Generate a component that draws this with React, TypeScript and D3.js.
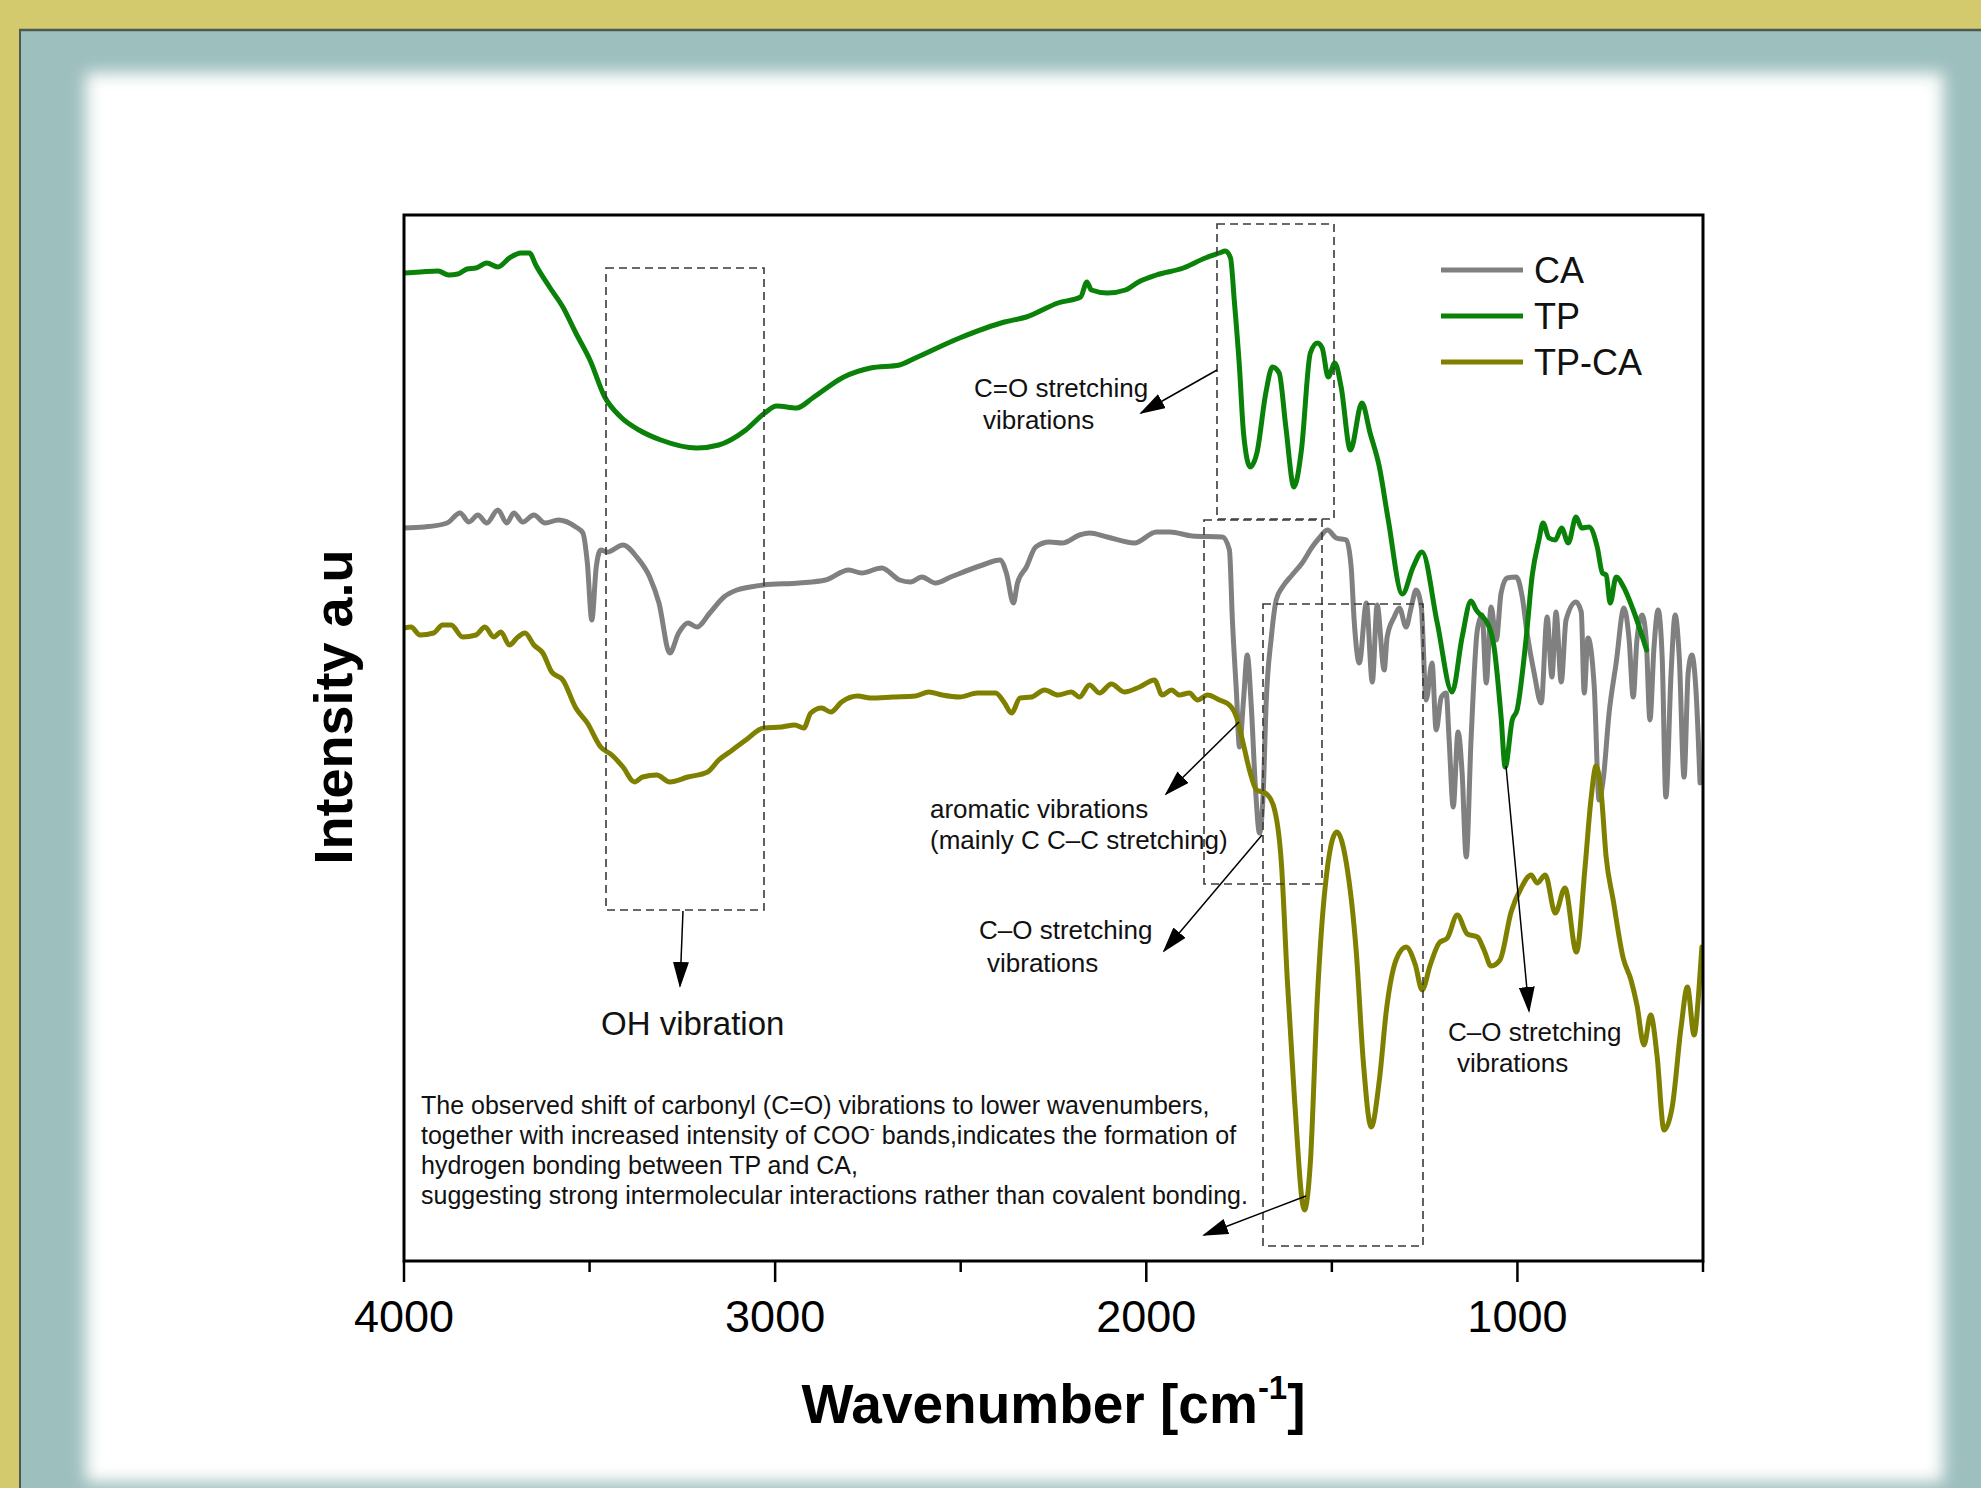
import React from 'react';
import * as d3 from 'd3';

// ---------- data (wavenumber [cm-1], intensity [a.u.]) ----------
const X_TICKS = [4000, 3500, 3000, 2500, 2000, 1500, 1000, 500];
const X_TICK_LABELS = [4000, 3000, 2000, 1000];
const SERIES_NAMES = ['CA', 'TP', 'TP-CA'];
const SERIES_COLORS = ['#808080', '#0a820a', '#808000'];

const TP: [number, number][] = [
  [4000, 98.8], [3955, 98.9], [3908, 99.0], [3880, 98.6], [3855, 98.7], [3830, 99.2], [3806, 99.3],
  [3777, 99.8], [3747, 99.4], [3716, 100.3], [3685, 100.8], [3662, 100.8], [3645, 99.6], [3608, 97.4],
  [3572, 95.4], [3537, 92.8], [3499, 90.1], [3459, 86.4], [3416, 84.4], [3367, 83.1], [3308, 82.1],
  [3211, 81.3], [3152, 81.6], [3079, 83.1], [3028, 84.8], [2996, 85.5], [2942, 85.3], [2899, 86.3],
  [2815, 88.4], [2743, 89.3], [2665, 89.6], [2622, 90.3], [2503, 92.3], [2382, 93.9], [2323, 94.4],
  [2238, 95.8], [2177, 96.4], [2160, 97.9], [2148, 97.1], [2105, 96.8], [2056, 97.1], [2021, 97.9],
  [1973, 98.6], [1900, 99.3], [1841, 100.3], [1803, 100.8], [1787, 101.0], [1773, 100.3], [1763, 96.1],
  [1749, 89.4], [1738, 82.8], [1720, 79.4], [1702, 80.8], [1678, 86.8], [1660, 89.4], [1642, 88.8],
  [1624, 83.4], [1602, 77.4], [1582, 81.1], [1558, 90.8], [1539, 91.8], [1526, 91.3], [1510, 88.4],
  [1492, 89.8], [1475, 87.4], [1450, 81.1], [1419, 85.8], [1397, 82.8], [1372, 79.4], [1348, 74.1],
  [1310, 66.7], [1281, 69.4], [1257, 70.9], [1216, 63.8], [1176, 56.9], [1149, 62.4], [1125, 66.0],
  [1111, 65.1], [1076, 63.4], [1063, 61.4], [1044, 54.4], [1033, 49.4], [1014, 54.1], [1001, 55.1],
  [977, 62.1], [960, 68.6], [942, 72.1], [931, 73.8], [915, 72.3], [898, 72.1], [881, 73.3],
  [863, 71.8], [842, 74.4], [827, 73.3], [807, 73.4], [785, 71.4], [771, 68.8], [761, 68.6],
  [750, 65.8], [734, 68.4], [714, 67.4], [688, 65.1], [652, 61.1],
];

const CA: [number, number][] = [
  [4000, 73.3], [3945, 73.4], [3884, 73.8], [3849, 74.8], [3825, 73.9], [3801, 74.6], [3777, 73.8],
  [3747, 75.1], [3723, 73.8], [3704, 74.8], [3680, 73.9], [3650, 74.6], [3620, 73.8], [3584, 74.1],
  [3537, 73.4], [3518, 72.8], [3506, 69.8], [3494, 64.1], [3482, 69.4], [3470, 71.1], [3452, 70.9],
  [3410, 71.6], [3373, 70.4], [3338, 68.4], [3313, 65.8], [3284, 60.8], [3260, 62.8], [3235, 63.8],
  [3211, 63.4], [3176, 64.8], [3138, 66.4], [3103, 67.1], [3067, 67.4], [3031, 67.6], [2935, 67.8],
  [2864, 68.1], [2802, 69.1], [2767, 68.8], [2713, 69.3], [2665, 68.1], [2635, 67.9], [2605, 68.4],
  [2568, 67.8], [2527, 68.4], [2441, 69.6], [2394, 70.1], [2377, 68.8], [2358, 65.8], [2347, 67.8],
  [2323, 69.4], [2298, 71.4], [2261, 71.9], [2226, 71.8], [2180, 72.6], [2153, 72.8], [2105, 72.4],
  [2032, 71.8], [1973, 72.9], [1936, 72.9], [1876, 72.5], [1795, 72.4], [1776, 71.1], [1768, 64.1],
  [1757, 56.8], [1749, 51.4], [1738, 56.1], [1728, 60.6], [1717, 55.4], [1706, 47.4], [1695, 42.8],
  [1685, 46.8], [1677, 55.8], [1663, 62.4], [1650, 66.1], [1633, 67.4], [1607, 68.6], [1580, 69.8],
  [1553, 71.4], [1534, 72.3], [1512, 73.1], [1488, 72.3], [1461, 72.1], [1448, 69.4], [1440, 64.1],
  [1426, 59.8], [1407, 65.8], [1391, 57.9], [1378, 65.6], [1359, 59.1], [1351, 62.4], [1332, 64.4],
  [1318, 65.3], [1300, 63.4], [1286, 65.4], [1273, 67.1], [1259, 65.4], [1246, 56.1], [1230, 59.8],
  [1219, 53.1], [1205, 56.4], [1192, 56.8], [1184, 52.1], [1173, 45.4], [1160, 52.9], [1149, 48.8],
  [1138, 40.4], [1125, 52.1], [1108, 63.1], [1095, 64.6], [1084, 57.8], [1071, 65.4], [1057, 62.1],
  [1044, 66.8], [1028, 68.3], [1003, 68.4], [987, 66.4], [974, 62.8], [955, 58.8], [936, 55.8],
  [920, 64.4], [907, 58.4], [896, 64.9], [882, 57.9], [869, 64.1], [842, 65.9], [828, 64.9],
  [820, 56.8], [810, 62.3], [793, 57.4], [780, 46.1], [769, 48.1], [753, 54.8], [734, 59.8],
  [713, 65.3], [699, 62.1], [688, 56.4], [678, 62.1], [664, 64.6], [653, 62.1], [643, 54.1],
  [632, 61.4], [621, 65.1], [610, 60.4], [600, 46.4], [586, 58.8], [575, 64.6], [564, 60.4],
  [551, 48.4], [540, 58.8], [530, 60.6], [519, 57.1], [508, 47.8],
];

const TPCA: [number, number][] = [
  [4000, 63.3], [3981, 63.4], [3957, 62.6], [3920, 62.8], [3896, 63.6], [3873, 63.6], [3842, 62.4],
  [3806, 62.6], [3782, 63.4], [3758, 62.4], [3739, 62.9], [3716, 61.6], [3693, 62.4], [3674, 62.8],
  [3650, 61.6], [3626, 60.8], [3602, 58.9], [3572, 58.1], [3537, 55.3], [3506, 53.8], [3470, 51.4],
  [3440, 50.6], [3410, 49.4], [3379, 47.9], [3357, 48.4], [3319, 48.6], [3284, 47.9], [3235, 48.4],
  [3182, 48.9], [3152, 50.1], [3115, 51.1], [3079, 52.1], [3031, 53.3], [2982, 53.4], [2947, 53.6],
  [2923, 53.3], [2904, 54.8], [2875, 55.3], [2850, 54.9], [2821, 55.9], [2778, 56.5], [2743, 56.3],
  [2683, 56.4], [2622, 56.5], [2586, 56.9], [2550, 56.6], [2503, 56.4], [2455, 56.8], [2406, 56.8],
  [2382, 55.8], [2363, 54.8], [2340, 56.3], [2309, 56.4], [2274, 57.1], [2238, 56.6], [2202, 56.9],
  [2180, 56.4], [2153, 57.6], [2126, 56.8], [2094, 57.7], [2059, 56.9], [2018, 57.4], [1978, 58.1],
  [1957, 56.6], [1932, 57.1], [1911, 56.6], [1884, 56.8], [1862, 56.1], [1835, 56.6], [1803, 56.1],
  [1776, 55.6], [1757, 54.4], [1741, 52.1], [1722, 49.1], [1703, 47.1], [1679, 46.8], [1658, 45.6],
  [1636, 39.8], [1620, 28.1], [1601, 16.4], [1574, 5.1], [1558, 9.8], [1539, 26.4], [1518, 37.4],
  [1487, 42.9], [1461, 39.8], [1434, 30.8], [1415, 19.8], [1394, 13.4], [1372, 18.1], [1353, 25.1],
  [1327, 30.1], [1300, 31.4], [1275, 29.6], [1257, 27.1], [1235, 29.6], [1211, 31.8], [1189, 32.3],
  [1162, 34.6], [1135, 32.7], [1108, 32.4], [1090, 31.1], [1071, 29.5], [1047, 30.1], [1017, 34.9],
  [990, 37.3], [963, 38.6], [947, 37.8], [925, 38.6], [898, 34.8], [872, 37.3], [841, 30.9],
  [818, 39.3], [802, 46.1], [788, 49.5], [775, 47.1], [761, 40.4], [742, 36.1], [715, 30.3],
  [694, 28.1], [678, 25.6], [659, 21.6], [641, 24.6], [624, 20.6], [605, 13.1], [583, 15.4],
  [559, 23.4], [542, 27.4], [524, 22.6], [511, 27.1], [503, 31.4],
];

const SERIES_DATA = [CA, TP, TPCA];

// ---------- layout ----------
const W = 1981;
const H = 1488;
const PL = 404, PR = 1703, PT = 215, PB = 1261;
const FONT = '"Liberation Sans", Arial, Helvetica, sans-serif';

export default function App() {
  const x = d3.scaleLinear().domain([4000, 500]).range([PL, PR]);
  const y = d3.scaleLinear().domain([0, 104.6]).range([PB, PT]);
  const line = d3
    .line<[number, number]>()
    .x((d) => x(d[0]))
    .y((d) => y(d[1]))
    .curve(d3.curveMonotoneX);

  const dash = { fill: 'none', stroke: '#3a3a3a', strokeWidth: 1.6, strokeDasharray: '8 5' };
  const arrow = { stroke: '#000', strokeWidth: 1.5, markerEnd: 'url(#ah)' };
  const ann = { fontFamily: FONT, fontSize: 26, fill: '#111' };
  const para = { fontFamily: FONT, fontSize: 25, fill: '#111' };

  return (
    <svg
      width={W}
      height={H}
      viewBox={`0 0 ${W} ${H}`}
      style={{ position: 'absolute', left: 0, top: 0, display: 'block' }}
    >
      <defs>
        <filter id="soft" x="-5%" y="-5%" width="110%" height="110%">
          <feGaussianBlur stdDeviation="8" />
        </filter>
        <clipPath id="plotclip">
          <rect x={PL} y={PT} width={PR - PL} height={PB - PT} />
        </clipPath>
        <marker
          id="ah"
          markerUnits="userSpaceOnUse"
          markerWidth="26"
          markerHeight="16"
          refX="24"
          refY="8"
          orient="auto"
        >
          <path d="M0,0 L26,8 L0,16 Z" fill="#000" />
        </marker>
      </defs>

      {/* background frame */}
      <rect x={0} y={0} width={W} height={H} fill="#d3ca6e" />
      <rect x={19} y={29} width={W - 19} height={H - 29} fill="#9dbfbe" />
      <line x1={19} y1={30} x2={W} y2={30} stroke="#4b5a52" strokeWidth={2.5} />
      <line x1={20} y1={29} x2={20} y2={H} stroke="#4b5a52" strokeWidth={2} />
      <rect x={86} y={73} width={1857} height={1409} fill="#ffffff" filter="url(#soft)" />

      {/* series */}
      <g clipPath="url(#plotclip)">
        {SERIES_DATA.map((data, i) => (
          <path
            key={SERIES_NAMES[i]}
            d={line(data) || ''}
            fill="none"
            stroke={SERIES_COLORS[i]}
            strokeWidth={5}
            strokeLinejoin="round"
            strokeLinecap="round"
          />
        ))}
      </g>

      {/* dashed boxes */}
      <rect x={606} y={268} width={158} height={642} {...dash} />
      <rect x={1217} y={224} width={117} height={295} {...dash} />
      <rect x={1204} y={520} width={118} height={364} {...dash} />
      <rect x={1263} y={604} width={160} height={642} {...dash} />

      {/* arrows */}
      <line x1={683} y1={911} x2={680} y2={986} {...arrow} />
      <line x1={1217} y1={370} x2={1141} y2={413} {...arrow} />
      <line x1={1239} y1={722} x2={1166} y2={794} {...arrow} />
      <line x1={1262} y1={835} x2={1164} y2={951} {...arrow} />
      <line x1={1506} y1={766} x2={1529} y2={1011} {...arrow} />
      <line x1={1306} y1={1196} x2={1204} y2={1235} {...arrow} />

      {/* annotations */}
      <text x={601} y={1035} fontFamily={FONT} fontSize={33} fill="#111">OH vibration</text>
      <text x={974} y={397} {...ann}>C=O stretching</text>
      <text x={983} y={429} {...ann}>vibrations</text>
      <text x={930} y={818} {...ann}>aromatic vibrations</text>
      <text x={930} y={849} {...ann}>(mainly C C–C stretching)</text>
      <text x={979} y={939} {...ann}>C–O stretching</text>
      <text x={987} y={972} {...ann}>vibrations</text>
      <text x={1448} y={1041} {...ann}>C–O stretching</text>
      <text x={1457} y={1072} {...ann}>vibrations</text>
      <text x={421} y={1114} {...para}>The observed shift of carbonyl (C=O) vibrations to lower wavenumbers,</text>
      <text x={421} y={1144} {...para}>
        together with increased intensity of COO
        <tspan fontSize={15} dy={-10}>-</tspan>
        <tspan dy={10}> bands,indicates the formation of</tspan>
      </text>
      <text x={421} y={1174} {...para}>hydrogen bonding between TP and CA,</text>
      <text x={421} y={1204} {...para}>suggesting strong intermolecular interactions rather than covalent bonding.</text>

      {/* legend */}
      {SERIES_NAMES.map((name, i) => (
        <g key={name}>
          <line x1={1441} x2={1523} y1={270 + i * 46} y2={270 + i * 46} stroke={SERIES_COLORS[i]} strokeWidth={5} />
          <text x={1534} y={283 + i * 46} fontFamily={FONT} fontSize={36} fill="#111">{name}</text>
        </g>
      ))}

      {/* frame + axis */}
      <rect x={PL} y={PT} width={PR - PL} height={PB - PT} fill="none" stroke="#000" strokeWidth={3} />
      {X_TICKS.map((t) => {
        const major = X_TICK_LABELS.includes(t);
        return (
          <line key={t} x1={x(t)} x2={x(t)} y1={PB} y2={PB + (major ? 21 : 11)} stroke="#000" strokeWidth={2.5} />
        );
      })}
      {X_TICK_LABELS.map((t) => (
        <text key={t} x={x(t)} y={1332} textAnchor="middle" fontFamily={FONT} fontSize={45} fill="#000">
          {t}
        </text>
      ))}

      {/* axis titles */}
      <text x={(PL + PR) / 2} y={1423} textAnchor="middle" fontFamily={FONT} fontSize={55} fontWeight="bold" fill="#000">
        Wavenumber [cm<tspan fontSize={33} dy={-24}>-1</tspan>
        <tspan dy={24}>]</tspan>
      </text>
      <text
        transform={`translate(352, 707) rotate(-90)`}
        textAnchor="middle"
        fontFamily={FONT}
        fontSize={54}
        fontWeight="bold"
        fill="#000"
      >
        Intensity a.u
      </text>
    </svg>
  );
}
